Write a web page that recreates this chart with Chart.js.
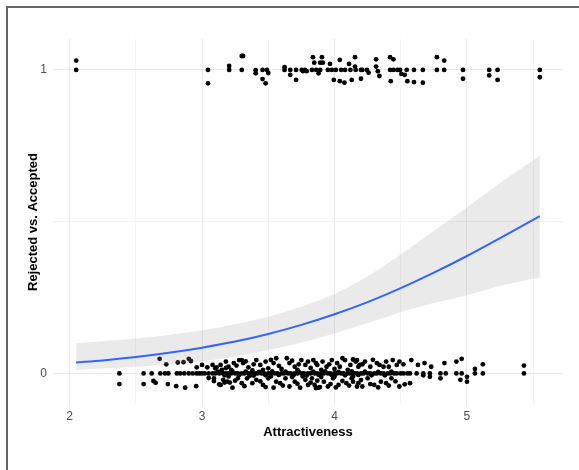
<!DOCTYPE html>
<html lang="en">
<head>
<meta charset="UTF-8">
<title>Attractiveness vs. acceptance</title>
<script src="https://cdn.jsdelivr.net/npm/chart.js"></script>
<style>
    html, body { margin: 0; padding: 0; background: #fff; overflow: hidden; }
    .frame {
        position: absolute; left: 6px; top: 6px;
        width: 620px; height: 520px;
        border: 2px solid #666;
        pointer-events: none;
    }
</style>
</head>
<body>
<canvas id="logitChart" width="579" height="470"></canvas>
<div class="frame"></div>
<script>
// logistic fit and its confidence band
const fitX   = [2.05, 2.25, 2.5, 2.75, 3.0, 3.25, 3.5, 3.75, 4.0, 4.25, 4.5, 4.75, 5.0, 5.25, 5.55];
const fitY   = [0.036, 0.043, 0.054, 0.068, 0.085, 0.105, 0.130, 0.160, 0.195, 0.235, 0.281, 0.332, 0.387, 0.446, 0.518];
const bandHi = [0.100, 0.106, 0.115, 0.127, 0.142, 0.162, 0.187, 0.220, 0.262, 0.320, 0.392, 0.470, 0.548, 0.627, 0.717];
const bandLo = [0.012, 0.016, 0.022, 0.030, 0.040, 0.056, 0.077, 0.102, 0.132, 0.166, 0.202, 0.232, 0.258, 0.288, 0.317];

// jittered observations (x = attractiveness, y = 1 accepted / 0 rejected)
const accepted = [
    [2.05,1.031],[2.05,1.0],[3.045,1.0],[3.045,0.956],[3.205,1.013],[3.205,1.0],
    [3.30,1.046],[3.31,1.046],[3.30,1.0],[3.405,0.999],[3.405,0.989],
    [3.457,1.0],[3.49,1.0],[3.50,0.99],[3.457,0.97],[3.48,0.956],
    [3.623,1.009],[3.623,1.0],[3.666,1.0],[3.666,0.984],[3.71,1.0],[3.71,0.967],
    [3.753,1.0],[3.778,1.0],[3.761,0.996],[3.79,0.996],[3.837,1.042],[3.905,1.042],
    [3.847,1.024],[3.892,1.024],[3.912,1.024],[3.83,1.0],[3.862,1.0],[3.88,0.989],[3.892,1.0],
    [3.966,1.02],[4.04,1.033],[4.11,1.02],[4.155,1.042],[4.155,1.011],
    [3.95,1.0],[3.98,1.0],[4.01,1.0],[4.05,1.0],[4.08,1.0],[4.12,1.0],[4.16,1.0],[4.2,1.0],[4.21,1.0],
    [3.995,0.967],[4.04,0.963],[4.075,0.958],[4.13,0.967],[4.2,0.971],
    [4.245,1.0],[4.257,0.991],[4.314,1.035],[4.314,1.011],[4.327,0.996],[4.339,0.98],
    [4.42,1.042],[4.445,1.035],[4.42,1.0],[4.445,1.0],[4.475,1.0],[4.495,1.0],[4.545,1.0],
    [4.425,0.963],[4.505,0.987],[4.53,0.984],[4.55,0.963],[4.6,0.96],[4.667,0.958],
    [4.6,1.0],[4.667,1.0],[4.773,1.042],[4.828,1.031],[4.773,1.0],[4.828,1.0],
    [4.97,1.0],[4.97,0.971],[5.168,1.0],[5.168,0.982],[5.231,1.0],[5.231,0.967],
    [5.55,1.0],[5.55,0.976]
];

const rejected = [
    [2.376,0],[2.376,-0.035],[2.559,0],[2.559,-0.035],[2.62,0],[2.633,-0.025],[2.65,-0.031],
    [2.68,0.048],[2.685,0],[2.72,0],[2.746,0],[2.73,0.03],[2.742,-0.035],
    [2.805,-0.042],[2.873,-0.047],[2.81,0],[2.835,0],[2.866,0],[2.9,0],[2.93,0],
    [2.817,0.036],[2.86,0.037],[2.9,0.048],[2.916,0.041],[2.956,-0.042],
    [2.96,0.02],[3.0,0.028],[3.04,0.02],[3.08,0.028],[3.11,0.02],[3.15,0.012],[3.18,0.018],
    [2.96,0],[2.98,0],[3.0,0],[3.02,0],[3.05,0],[3.08,0],[3.1,0],[3.13,0],[3.16,0],[3.18,0],
    [3.05,-0.015],[3.09,-0.025],[3.14,-0.038],[3.17,-0.03],
    // dense middle, above the line
    [3.10,0.017],[3.14,0.028],[3.18,0.039],[3.20,0.022],[3.24,0.034],[3.28,0.044],[3.30,0.044],[3.31,0.034],
    [3.41,0.044],[3.44,0.028],[3.48,0.039],[3.50,0.017],[3.54,0.034],[3.56,0.05],
    [3.64,0.05],[3.66,0.034],[3.70,0.022],[3.75,0.044],[3.78,0.028],[3.80,0.039],
    [3.84,0.044],[3.87,0.028],[3.91,0.039],[3.94,0.022],[3.98,0.044],[4.02,0.034],[4.06,0.05],
    [4.08,0.044],[4.12,0.028],[4.16,0.039],[4.18,0.022],
    [3.22,0.012],[3.35,0.02],[3.38,0.01],[3.46,0.012],[3.6,0.015],[3.72,0.012],[3.82,0.018],
    [3.9,0.012],[4.0,0.015],[4.1,0.012],
    [3.26,0.026],[3.33,0.04],[3.39,0.03],[3.52,0.045],[3.58,0.025],[3.68,0.042],[3.73,0.03],
    [3.86,0.034],[3.96,0.03],[4.04,0.022],[4.14,0.046],[4.21,0.03],[4.29,0.045],[4.34,0.028],
    [4.41,0.022],[4.52,0.03],
    // dense middle, below the line
    [3.09,-0.016],[3.13,-0.036],[3.16,-0.021],[3.19,-0.027],[3.23,-0.047],[3.27,-0.016],[3.30,-0.032],
    [3.34,-0.016],[3.38,-0.032],[3.41,-0.021],[3.46,-0.038],[3.50,-0.016],[3.54,-0.047],[3.56,-0.027],
    [3.59,-0.032],[3.63,-0.016],[3.66,-0.043],[3.70,-0.027],[3.74,-0.047],[3.78,-0.021],[3.80,-0.038],
    [3.83,-0.016],[3.85,-0.038],[3.88,-0.047],[3.92,-0.027],[3.95,-0.043],[3.99,-0.016],[4.03,-0.038],
    [4.06,-0.025],[3.86,-0.048],[3.89,-0.045],[4.09,-0.032],[4.13,-0.016],[4.17,-0.043],
    [3.2,-0.01],[3.36,-0.008],[3.52,-0.01],[3.68,-0.012],[3.76,-0.01],[3.9,-0.012],[4.0,-0.01],[4.14,-0.01],
    [3.21,-0.03],[3.25,-0.024],[3.32,-0.042],[3.44,-0.026],[3.48,-0.045],[3.61,-0.04],[3.72,-0.034],
    [3.82,-0.03],[3.87,-0.024],[3.97,-0.035],[4.01,-0.046],[4.11,-0.04],[4.2,-0.022],[4.27,-0.035],
    [4.33,-0.046],[4.41,-0.04],[4.46,-0.026],[4.53,-0.036],
    // on the line
    [3.2,0],[3.22,0],[3.25,0],[3.27,0],[3.3,0],[3.32,0],[3.35,0],[3.37,0],[3.4,0],[3.42,0],
    [3.45,0],[3.47,0],[3.5,0],[3.52,0],[3.55,0],[3.57,0],[3.6,0],[3.62,0],[3.65,0],[3.67,0],
    [3.7,0],[3.72,0],[3.75,0],[3.77,0],[3.8,0],[3.82,0],[3.85,0],[3.87,0],[3.9,0],[3.92,0],
    [3.95,0],[3.97,0],[4.0,0],[4.02,0],[4.05,0],[4.07,0],[4.1,0],[4.12,0],[4.15,0],[4.17,0],
    [4.2,0],[4.22,0],[4.25,0],[4.27,0],[4.3,0],[4.32,0],[4.35,0],[4.37,0],[4.4,0],[4.42,0],
    [4.45,0],[4.47,0],[4.5,0],[4.52,0],[4.55,0],
    [3.12,0.006],[3.17,-0.006],[3.23,0.007],[3.28,-0.005],[3.33,0.006],[3.39,-0.007],[3.43,0.005],
    [3.48,-0.006],[3.53,0.007],[3.58,-0.005],[3.63,0.006],[3.69,-0.006],[3.73,0.005],[3.79,-0.007],
    [3.84,0.006],[3.88,-0.005],[3.93,0.007],[3.98,-0.006],[4.03,0.005],[4.08,-0.006],[4.13,0.007],
    [4.18,-0.005],[4.23,0.006],[4.28,-0.006],[4.33,0.005],[4.38,-0.006],[4.43,0.006],
    // right-hand part
    [4.17,0.044],[4.19,0.028],[4.23,0.039],[4.27,0.022],[4.32,0.034],[4.37,0.022],[4.39,0.039],
    [4.44,0.044],[4.47,0.028],[4.49,0.039],[4.58,0.044],[4.63,0.028],[4.68,0.034],[4.73,0.022],
    [4.83,0.034],[4.92,0.039],[4.96,0.048],[5.06,0.015],[5.12,0.030],[5.43,0.026],
    [4.57,0],[4.62,0],[4.67,0],[4.72,0],[4.80,0],[4.84,0],[4.92,0],[4.96,0],[5.06,0],[5.12,0],[5.43,0],
    [4.14,-0.027],[4.18,-0.032],[4.21,-0.043],[4.25,-0.016],[4.30,-0.038],[4.35,-0.027],[4.39,-0.032],
    [4.43,-0.016],[4.49,-0.043],[4.57,-0.032],[4.67,-0.006],[4.72,-0.011],[4.80,-0.016],
    [4.95,-0.021],[5.0,-0.011],[5.0,-0.027]
];

const xTicks = [2, 2.5, 3, 3.5, 4, 4.5, 5, 5.5];
const yTicks = [0, 0.5, 1];
const xLabels = ['2', '', '3', '', '4', '', '5', ''];
const yLabels = ['0', '', '1'];

const fontFamily = '"Liberation Sans", Arial, sans-serif';

function toPoints(xs, ys) {
    return xs.map((x, i) => ({ x: x, y: ys[i] }));
}
function pairs(list) {
    return list.map(p => ({ x: p[0], y: p[1] }));
}

const ctx = document.getElementById('logitChart');
new Chart(ctx, {
    type: 'scatter',
    data: {
        datasets: [
            {
                type: 'line',
                label: 'fit',
                data: toPoints(fitX, fitY),
                borderColor: '#3366FF',
                borderWidth: 2,
                pointRadius: 0,
                tension: 0.3,
                fill: false,
                order: 0
            },
            {
                type: 'line',
                label: 'lower',
                data: toPoints(fitX, bandLo),
                borderColor: 'rgba(0,0,0,0)',
                pointRadius: 0,
                tension: 0.3,
                fill: false,
                order: 1
            },
            {
                type: 'line',
                label: 'upper',
                data: toPoints(fitX, bandHi),
                borderColor: 'rgba(0,0,0,0)',
                backgroundColor: 'rgba(160,160,160,0.22)',
                pointRadius: 0,
                tension: 0.3,
                fill: '-1',
                order: 1
            },
            {
                label: 'accepted',
                data: pairs(accepted),
                backgroundColor: '#000',
                borderWidth: 0,
                pointRadius: 2.4,
                order: 2
            },
            {
                label: 'rejected',
                data: pairs(rejected),
                backgroundColor: '#000',
                borderWidth: 0,
                pointRadius: 2.4,
                order: 2
            }
        ]
    },
    options: {
        responsive: false,
        animation: false,
        layout: { padding: { left: 0, top: 39, right: 16, bottom: 0 } },
        plugins: {
            legend: { display: false },
            tooltip: { enabled: false }
        },
        scales: {
            x: {
                type: 'linear',
                min: 1.875,
                max: 5.725,
                afterBuildTicks: s => { s.ticks = xTicks.map(v => ({ value: v })); },
                afterFit: s => { s.height = 65; },
                border: { display: false },
                grid: {
                    drawTicks: false,
                    color: c => (c.tick && c.tick.value % 1 === 0) ? '#ebebeb' : '#f3f3f3',
                    lineWidth: 1
                },
                ticks: {
                    padding: 4,
                    color: '#4d4d4d',
                    font: { family: fontFamily, size: 12 },
                    maxRotation: 0,
                    autoSkip: false,
                    callback: (v, i) => xLabels[i]
                },
                title: {
                    display: true,
                    text: 'Attractiveness',
                    color: '#000',
                    font: { family: fontFamily, size: 13, weight: 'bold' },
                    padding: { top: 0, bottom: 30 }
                }
            },
            y: {
                type: 'linear',
                min: -0.104,
                max: 1.102,
                afterBuildTicks: s => { s.ticks = yTicks.map(v => ({ value: v })); },
                afterFit: s => { s.width = 53; },
                border: { display: false },
                grid: {
                    drawTicks: false,
                    color: c => (c.tick && c.tick.value % 1 === 0) ? '#ebebeb' : '#f3f3f3',
                    lineWidth: 1
                },
                ticks: {
                    padding: 6,
                    color: '#4d4d4d',
                    font: { family: fontFamily, size: 12 },
                    callback: (v, i) => yLabels[i]
                },
                title: {
                    display: true,
                    text: 'Rejected vs. Accepted',
                    color: '#000',
                    font: { family: fontFamily, size: 13, weight: 'bold' },
                    padding: { top: 26, bottom: 0 }
                }
            }
        }
    }
});
</script>
</body>
</html>
